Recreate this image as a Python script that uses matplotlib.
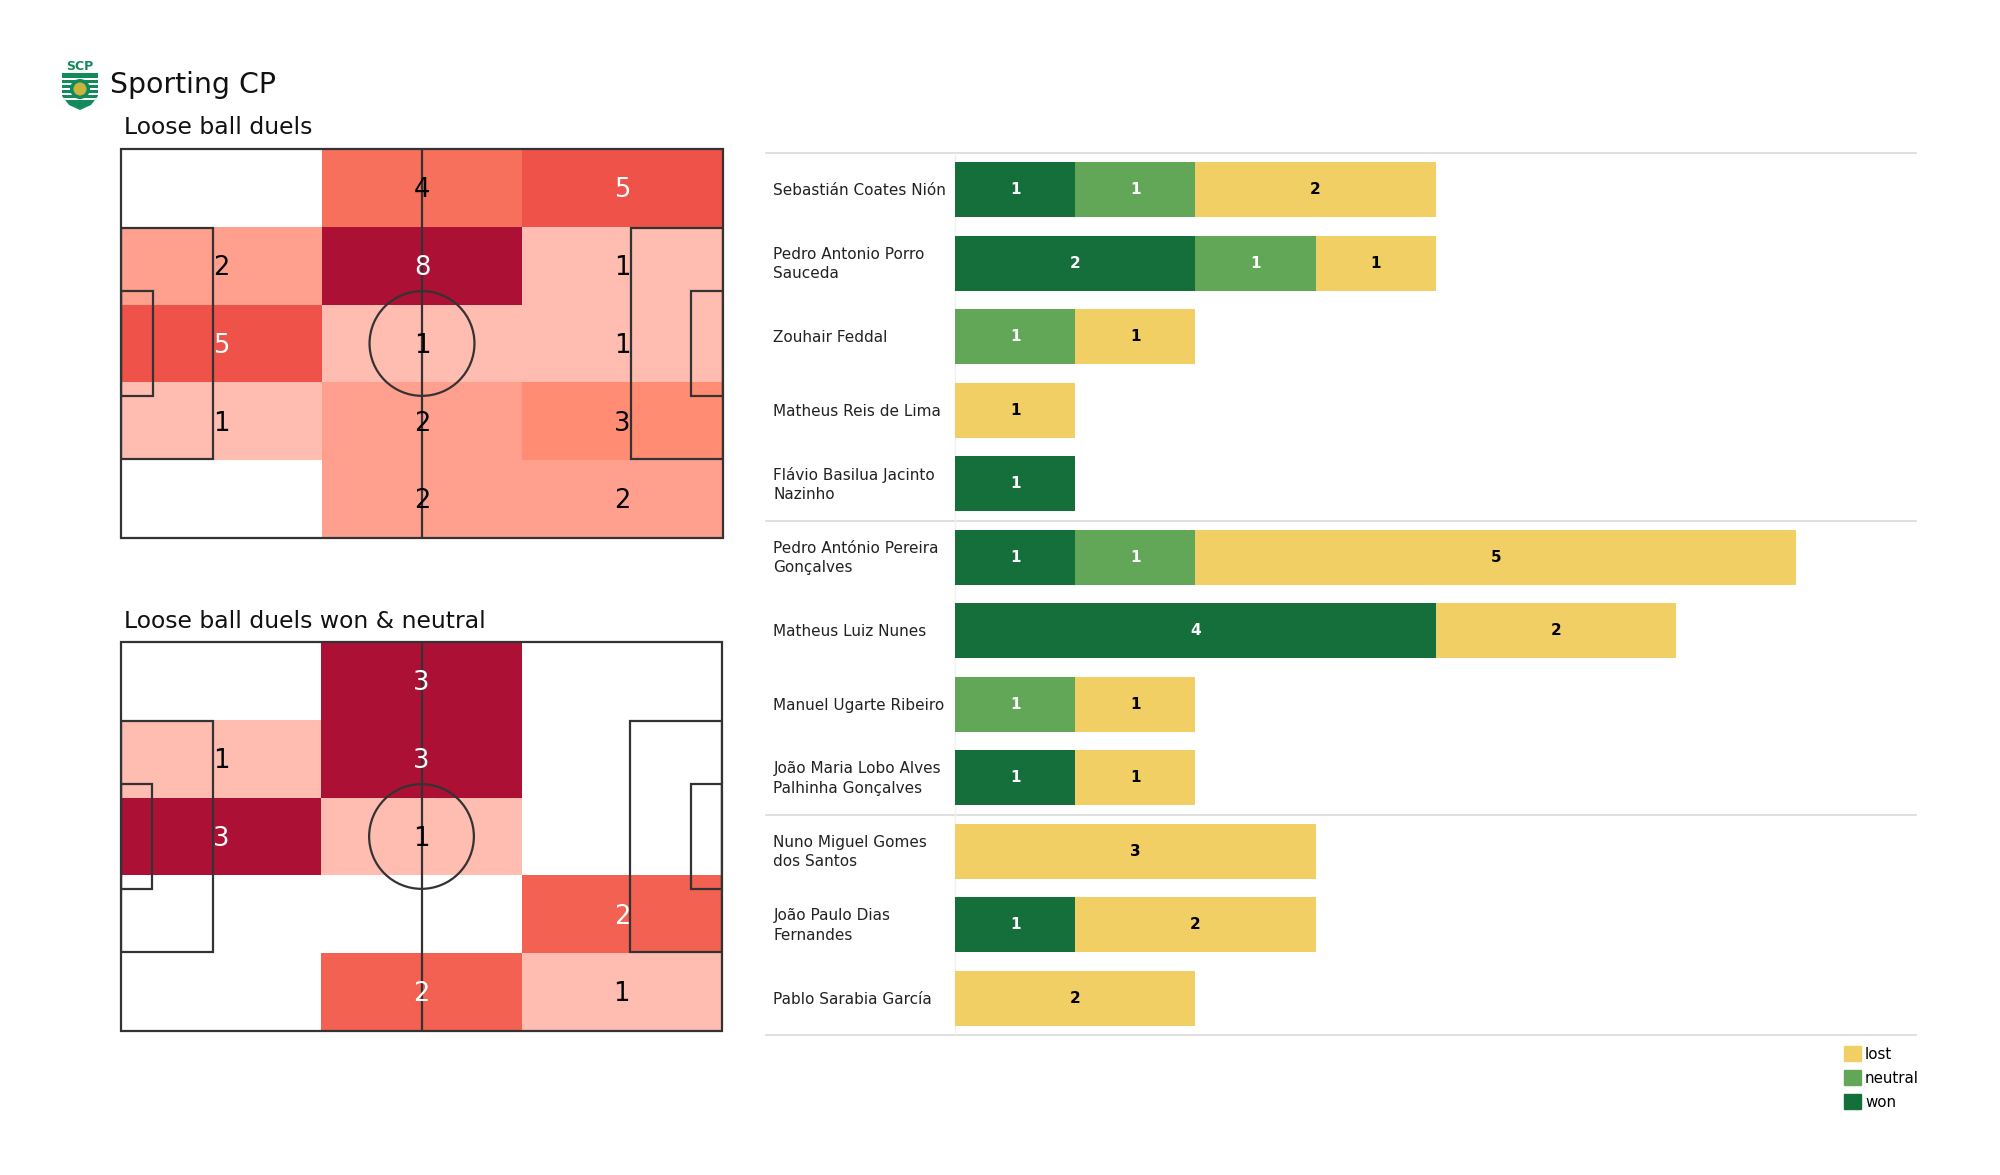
import numpy as np
import matplotlib
matplotlib.use("Agg")
import matplotlib.pyplot as plt
from matplotlib.colors import LinearSegmentedColormap, Normalize
from matplotlib.patches import Rectangle, Circle, Polygon, Patch

W, H = 2000, 1175

team = "Sporting CP"
title_all = "Loose ball duels"
title_won = "Loose ball duels won & neutral"

# pitch grids, top row first
duels_all = np.array([[0, 4, 5],
                      [2, 8, 1],
                      [5, 1, 1],
                      [1, 2, 3],
                      [0, 2, 2]])
duels_won = np.array([[0, 3, 0],
                      [1, 3, 0],
                      [3, 1, 0],
                      [0, 0, 2],
                      [0, 2, 1]])

players = ["Sebastián Coates Nión", "Pedro Antonio Porro\nSauceda", "Zouhair Feddal",
           "Matheus Reis de Lima", "Flávio Basilua Jacinto\nNazinho",
           "Pedro António Pereira\nGonçalves", "Matheus Luiz Nunes", "Manuel Ugarte Ribeiro",
           "João Maria Lobo Alves\nPalhinha Gonçalves", "Nuno Miguel Gomes\ndos Santos",
           "João Paulo Dias\nFernandes", "Pablo Sarabia García"]
won = [1, 2, 0, 0, 1, 1, 4, 0, 1, 0, 1, 0]
neutral = [1, 1, 1, 0, 0, 1, 0, 1, 0, 0, 0, 0]
lost = [2, 1, 1, 1, 0, 5, 2, 1, 1, 3, 2, 2]
group_ends = [4.5, 8.5]

GREEN_D = "#156f3b"
GREEN_L = "#62a758"
YELLOW = "#f2cf65"

heat = LinearSegmentedColormap.from_list("heat", [(0, "#ffbcb0"), (1 / 7, "#ffa08e"), (2 / 7, "#ff8c73"),
                                                  (3 / 7, "#f6705c"), (4 / 7, "#ee5249"), (1, "#ad1035")])
heat.set_under("white")


def px_axes(fig, x0, y0, x1, y1):
    return fig.add_axes([x0 / W, 1 - y1 / H, (x1 - x0) / W, (y1 - y0) / H])


def draw_pitch(ax, grid):
    xe = np.linspace(0, 105, grid.shape[1] + 1)
    ye = np.linspace(68, 0, grid.shape[0] + 1)
    norm = Normalize(vmin=1, vmax=grid.max())
    ax.pcolormesh(xe, ye, grid, cmap=heat, norm=norm, zorder=1)
    for r in range(grid.shape[0]):
        for c in range(grid.shape[1]):
            if grid[r, c] > 0:
                col = "white" if grid[r, c] >= 0.6 * grid.max() else "black"
                ax.text((xe[c] + xe[c + 1]) / 2, (ye[r] + ye[r + 1]) / 2 - 0.4, str(grid[r, c]), fontsize=18.5,
                        color=col, ha="center", va="center", zorder=3)
    lc = "#333333"
    lw = 1.6
    ax.add_patch(Rectangle((0, 0), 105, 68, fill=False, ec=lc, lw=lw, zorder=2, clip_on=False))
    ax.plot([52.5, 52.5], [0, 68], color=lc, lw=lw, zorder=2)
    ax.add_patch(Circle((52.5, 34), 9.15, fill=False, ec=lc, lw=lw, zorder=2))
    for x, w in [(0, 16), (105 - 16, 16)]:
        ax.add_patch(Rectangle((x, 13.84), w, 40.32, fill=False, ec=lc, lw=lw, zorder=2))
    for x, w in [(0, 5.5), (105 - 5.5, 5.5)]:
        ax.add_patch(Rectangle((x, 24.84), w, 18.32, fill=False, ec=lc, lw=lw, zorder=2))
    ax.set_xlim(0, 105)
    ax.set_ylim(0, 68)
    ax.axis("off")


fig = plt.figure(figsize=(W / 100, H / 100), dpi=100)

# badge
logo = px_axes(fig, 60, 60, 100, 112)
logo.set_xlim(0, 40)
logo.set_ylim(52, 0)
logo.axis("off")
shield = Polygon([(2, 13), (38, 13), (38, 36), (31, 45), (20, 50), (9, 45), (2, 36)], fc="#128a5c", ec="none")
logo.add_patch(shield)
for y in [18, 23, 28, 33, 38]:
    stripe = Rectangle((0, y), 40, 1.8, fc="white", ec="none")
    logo.add_patch(stripe)
    stripe.set_clip_path(shield)
logo.add_patch(Circle((20, 29), 10, fc="#128a5c", ec="none"))
logo.add_patch(Circle((20, 29), 6.5, fc="#c9b53c", ec="none"))
logo.text(20, 6, "SCP", fontsize=9, fontweight="bold", color="#128a5c", ha="center", va="center")

fig.text(110 / W, 1 - 85 / H, team, fontsize=20.4, color="#111111", ha="left", va="center")
fig.text(124 / W, 1 - 127 / H, title_all, fontsize=16.9, color="#111111", ha="left", va="center")
fig.text(124 / W, 1 - 621 / H, title_won, fontsize=16.9, color="#111111", ha="left", va="center")

draw_pitch(px_axes(fig, 121, 149, 723, 538), duels_all)
draw_pitch(px_axes(fig, 121, 642, 722, 1031), duels_won)

# stacked bars
ax = px_axes(fig, 766, 153, 1916, 1035)
y = np.arange(len(players))
left = np.zeros(len(players))
for vals, col, tc in [(won, GREEN_D, "white"), (neutral, GREEN_L, "white"), (lost, YELLOW, "black")]:
    ax.barh(y, vals, left=left, height=0.75, color=col, zorder=2)
    for i, v in enumerate(vals):
        if v > 0:
            ax.text(left[i] + v / 2, i, str(v), color=tc, fontsize=11, fontweight="bold",
                    ha="center", va="center", zorder=3)
    left = left + np.array(vals)
for i, name in enumerate(players):
    ax.text(-1.51, i + 0.012, name, fontsize=11, color="#222222", ha="left", va="center", linespacing=1.36)
ax.set_xlim(-189 / 120.2, 961 / 120.2)
ax.set_ylim(11.5, -0.5)
for yy in [-0.5] + group_ends + [11.5]:
    ax.axhline(yy, color="#d9d9d9", lw=1.2, zorder=1, clip_on=False)
ax.axvline(0, color="#f0f0f0", lw=1, zorder=1)
ax.axis("off")

handles = [Patch(color=YELLOW, label="lost"), Patch(color=GREEN_L, label="neutral"), Patch(color=GREEN_D, label="won")]
fig.legend(handles=handles, loc="upper left", bbox_to_anchor=(1841 / W, 1 - 1043 / H), frameon=False,
           fontsize=10.8, handlelength=1.1, handleheight=1.15, handletextpad=0.3, labelspacing=0.58,
           borderpad=0.2, borderaxespad=0)

fig.savefig("out.png", dpi=100, facecolor="white")
